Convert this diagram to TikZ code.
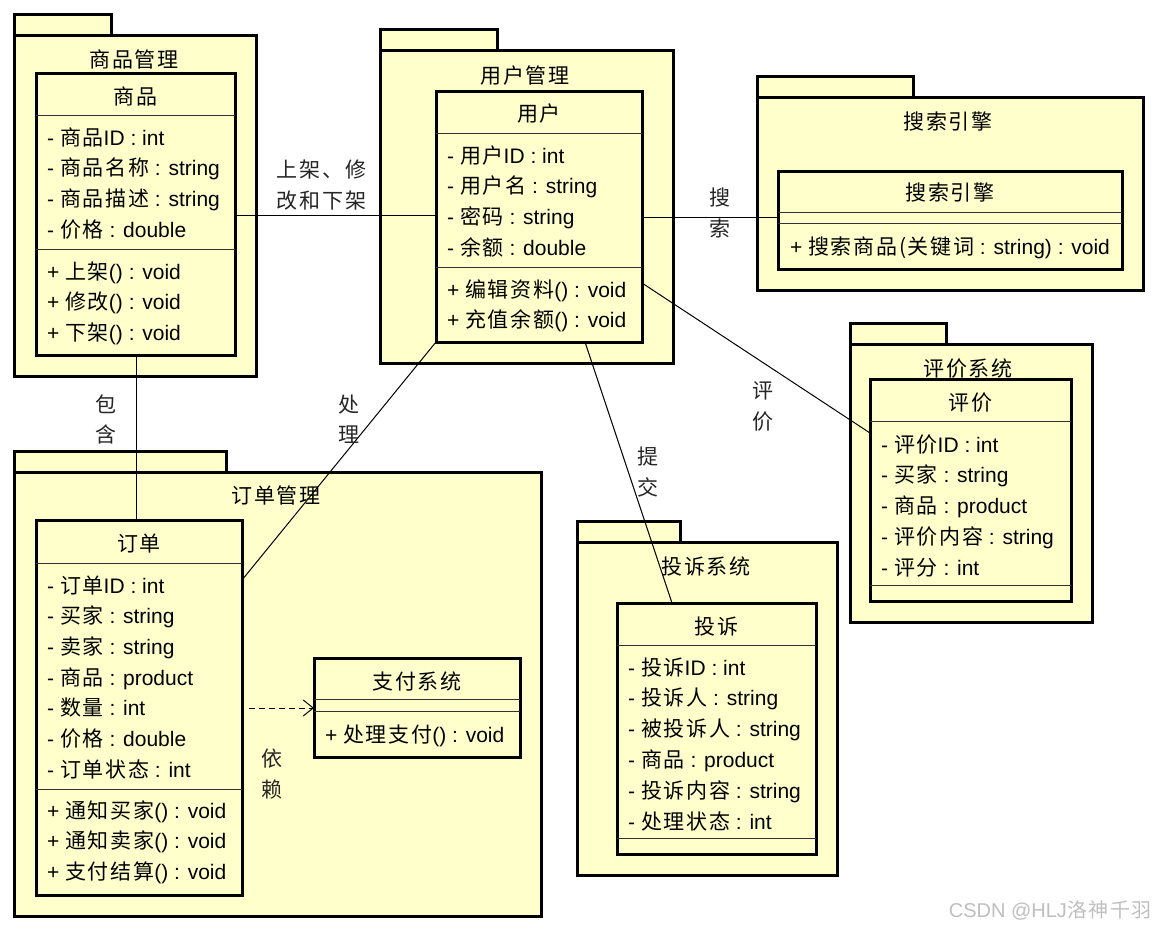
\documentclass[tikz,border=0pt]{standalone}
\usepackage{fontspec}
\setmainfont{Liberation Sans}
\newfontfamily\cjk[LetterSpace=8]{Noto Sans CJK SC}
\newcommand\zh[1]{{\cjk #1}}
\usetikzlibrary{arrows.meta}
\definecolor{pkgfill}{RGB}{255,255,204}
\begin{document}
\begin{tikzpicture}[x=1pt,y=-1pt, font=\fontsize{21}{25}\selectfont,
 pkg/.style={draw=black, line width=3pt, fill=pkgfill},
 box/.style={draw=black, line width=3pt, fill=pkgfill, rectangle, inner sep=0pt, outer sep=0pt},
 div/.style={draw=black!80, line width=1pt},
 txt/.style={anchor=base west, inner sep=0pt},
 ttl/.style={anchor=base, inner sep=0pt},
 lbl/.style={anchor=base, inner sep=0pt, text=black!85},
 conn/.style={draw=black, line width=1pt}]
\useasboundingbox (0,0) rectangle (1157,929);
\fill[white] (0,0) rectangle (1157,929);

% ---------- packages ----------
\draw[pkg] (14,14) rectangle (111,35);
\node[box, minimum width=242pt, minimum height=341pt] (P1) at (135,205.5) {};
\node[ttl] (P1t) at (134,67) {\zh{商品管理}};

\draw[pkg] (380,29) rectangle (497,50);
\node[box, minimum width=293pt, minimum height=313pt] (P2) at (526.5,206.5) {};
\node[ttl] (P2t) at (525,83) {\zh{用户管理}};

\draw[pkg] (757,76) rectangle (913,97);
\node[box, minimum width=386pt, minimum height=193pt] (P3) at (950,193.5) {};
\node[ttl] (P3t) at (948,129) {\zh{搜索引擎}};

\draw[pkg] (850,323) rectangle (946,344);
\node[box, minimum width=242pt, minimum height=278pt] (P4) at (971,483) {};
\node[ttl] (P4t) at (968,376) {\zh{评价系统}};

\draw[pkg] (577,521) rectangle (680,542);
\node[box, minimum width=260pt, minimum height=333pt] (P5) at (707,708.5) {};
\node[ttl] (P5t) at (706,574) {\zh{投诉系统}};

\draw[pkg] (14,451) rectangle (226,472);
\node[box, minimum width=527pt, minimum height=444pt] (P6) at (277.5,694) {};
\node[ttl] (P6t) at (276,503) {\zh{订单管理}};

% ---------- classes ----------
% 商品
\node[box, minimum width=199pt, minimum height=282pt] (C1) at (135.5,214) {};
\node[ttl] (C1n) at (135.5,104) {\zh{商品}};
\draw[div] (C1.west |- 0,115) -- (C1.east |- 0,115);
\draw[div] (C1.west |- 0,249) -- (C1.east |- 0,249);
\foreach \t [count=\i from 0] in {- \zh{商品}ID : int, - \zh{商品名称} : string, - \zh{商品描述} : string, - \zh{价格} : double}
  \node[txt] (C1a\i) at (47,145+30.7*\i) {\t};
\foreach \t [count=\i from 0] in {+ \zh{上架}() : void, + \zh{修改}() : void, + \zh{下架}() : void}
  \node[txt] (C1m\i) at (47,279+30.7*\i) {\t};

% 用户
\node[box, minimum width=206pt, minimum height=251pt] (C2) at (539,216.5) {};
\node[ttl] (C2n) at (539,121) {\zh{用户}};
\draw[div] (C2.west |- 0,133) -- (C2.east |- 0,133);
\draw[div] (C2.west |- 0,267) -- (C2.east |- 0,267);
\foreach \t [count=\i from 0] in {- \zh{用户}ID : int, - \zh{用户名} : string, - \zh{密码} : string, - \zh{余额} : double}
  \node[txt] (C2a\i) at (447,163+30.7*\i) {\t};
\foreach \t [count=\i from 0] in {+ \zh{编辑资料}() : void, + \zh{充值余额}() : void}
  \node[txt] (C2m\i) at (447,297+30.7*\i) {\t};

% 搜索引擎
\node[box, minimum width=344pt, minimum height=98pt] (C3) at (950,220) {};
\node[ttl] (C3n) at (950,200) {\zh{搜索引擎}};
\draw[div] (C3.west |- 0,212) -- (C3.east |- 0,212);
\draw[div] (C3.west |- 0,223) -- (C3.east |- 0,223);
\node[txt] (C3m0) at (790,254) {+ \zh{搜索商品(关键词} : string) : void};

% 评价
\node[box, minimum width=201pt, minimum height=222pt] (C4) at (970.5,490) {};
\node[ttl] (C4n) at (970.5,410) {\zh{评价}};
\draw[div] (C4.west |- 0,421) -- (C4.east |- 0,421);
\draw[div] (C4.west |- 0,585) -- (C4.east |- 0,585);
\foreach \t [count=\i from 0] in {- \zh{评价}ID : int, - \zh{买家} : string, - \zh{商品} : product, - \zh{评价内容} : string, - \zh{评分} : int}
  \node[txt] (C4a\i) at (881,452+30.75*\i) {\t};

% 投诉
\node[box, minimum width=199pt, minimum height=251pt] (C5) at (716.5,728.5) {};
\node[ttl] (C5n) at (716.5,634) {\zh{投诉}};
\draw[div] (C5.west |- 0,645) -- (C5.east |- 0,645);
\draw[div] (C5.west |- 0,838) -- (C5.east |- 0,838);
\foreach \t [count=\i from 0] in {- \zh{投诉}ID : int, - \zh{投诉人} : string, - \zh{被投诉人} : string, - \zh{商品} : product, - \zh{投诉内容} : string, - \zh{处理状态} : int}
  \node[txt] (C5a\i) at (628,675+30.8*\i) {\t};

% 订单
\node[box, minimum width=206pt, minimum height=375pt] (C6) at (139,707.5) {};
\node[ttl] (C6n) at (139,551) {\zh{订单}};
\draw[div] (C6.west |- 0,563) -- (C6.east |- 0,563);
\draw[div] (C6.west |- 0,789) -- (C6.east |- 0,789);
\foreach \t [count=\i from 0] in {- \zh{订单}ID : int, - \zh{买家} : string, - \zh{卖家} : string, - \zh{商品} : product, - \zh{数量} : int, - \zh{价格} : double, - \zh{订单状态} : int}
  \node[txt] (C6a\i) at (47,593+30.67*\i) {\t};
\foreach \t [count=\i from 0] in {+ \zh{通知买家}() : void, + \zh{通知卖家}() : void, + \zh{支付结算}() : void}
  \node[txt] (C6m\i) at (47,818+30.7*\i) {\t};

% 支付系统
\node[box, minimum width=206pt, minimum height=99pt] (C7) at (417,707.5) {};
\node[ttl] (C7n) at (417,689) {\zh{支付系统}};
\draw[div] (C7.west |- 0,699) -- (C7.east |- 0,699);
\draw[div] (C7.west |- 0,711) -- (C7.east |- 0,711);
\node[txt] (C7m0) at (325,742) {+ \zh{处理支付}() : void};

% ---------- connectors ----------
\draw[conn] (C1.east |- 0,215) -- (C2.west |- 0,215);
\node[lbl] (L1a) at (321.5,177) {\zh{上架、修}};
\node[lbl] (L1b) at (321.5,208) {\zh{改和下架}};

\draw[conn] (C2.east |- 0,217) -- (C3.west |- 0,217);
\node[lbl] (L2a) at (720,205) {\zh{搜}};
\node[lbl] (L2b) at (720,236) {\zh{索}};

\draw[conn] (C1.south -| 136,0) -- (C6.north -| 136,0);
\node[lbl] (L3a) at (106,412) {\zh{包}};
\node[lbl] (L3b) at (106,442) {\zh{含}};

\draw[conn] (C2.south west) -- (C6.east |- 0,580);
\node[lbl] (L4a) at (349,412) {\zh{处}};
\node[lbl] (L4b) at (349,442) {\zh{理}};

\draw[conn] (C2.east |- 0,283) -- (C4.west |- 0,433);
\node[lbl] (L5a) at (763,398) {\zh{评}};
\node[lbl] (L5b) at (763,429) {\zh{价}};

\draw[conn] (C2.south -| 585,0) -- (C5.north -| 672,0);
\node[lbl] (L6a) at (648,464) {\zh{提}};
\node[lbl] (L6b) at (648,495) {\zh{交}};

\coordinate (D0) at ([xshift=7pt]C6.east |- 0,708);
\draw[conn, dash pattern=on 6pt off 4pt, -{Straight Barb[length=10pt,width=16pt,line width=1pt]}] (D0) -- (C7.west |- 0,708);
\node[lbl] (L7a) at (272,766) {\zh{依}};
\node[lbl] (L7b) at (272,797) {\zh{赖}};

% watermark
\node[anchor=base east, inner sep=0pt, text=black!25, font=\fontsize{20}{20}\selectfont] (wm) at (1152,917) {CSDN @HLJ\zh{洛神千羽}};
\end{tikzpicture}
\end{document}
